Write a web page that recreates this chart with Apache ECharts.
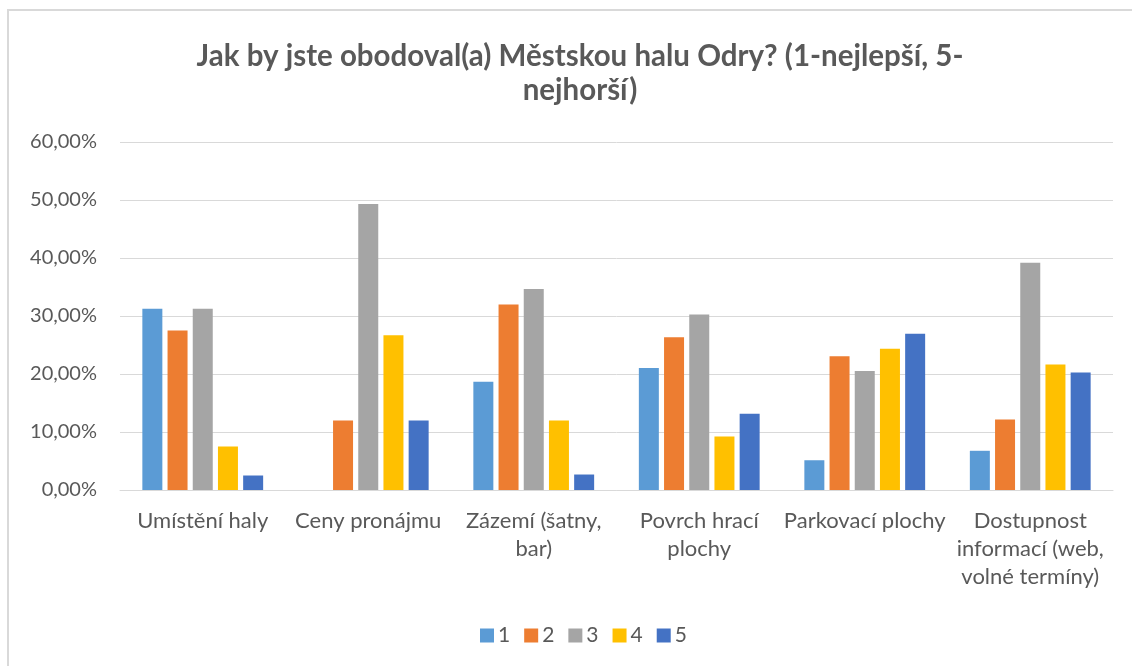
<!doctype html>
<html>
<head>
<meta charset="utf-8">
<title>Městská hala Odry</title>
<style type="text/css">
html, body {
  margin: 0;
  padding: 0;
  background: #fff;
  overflow: hidden;
}
#frame {
  position: absolute;
  left: 7px;
  top: 9px;
  width: 1160px;
  height: 700px;
  border-left: 2px solid #d9d9d9;
  border-top: 2px solid #d9d9d9;
}
#chart {
  position: absolute;
  left: 0;
  top: 0;
  width: 1132px;
  height: 666px;
}
</style>
<script type="text/javascript" src="https://cdn.jsdelivr.net/npm/echarts@6/dist/echarts.min.js"></script>
</head>
<body>
<div id="frame"></div>
<div id="chart"></div>
<script type="text/javascript">
// kategorie (osa x)
var categories = [
  'Umístění haly',
  'Ceny pronájmu',
  'Zázemí (šatny,\nbar)',
  'Povrch hrací\nplochy',
  'Parkovací plochy',
  'Dostupnost\ninformací (web,\nvolné termíny)'
];
// hodnocení 1-5, podíl odpovědí v %
var seriesNames = ['1', '2', '3', '4', '5'];
var rating1 = [31.25, 0, 18.67, 21.05, 5.13, 6.76];
var rating2 = [27.5, 12.0, 32.0, 26.32, 23.08, 12.16];
var rating3 = [31.25, 49.33, 34.67, 30.26, 20.51, 39.19];
var rating4 = [7.5, 26.67, 12.0, 9.21, 24.36, 21.62];
var rating5 = [2.5, 12.0, 2.67, 13.16, 26.92, 20.27];
var yTicks = [0, 10, 20, 30, 40, 50, 60];

var colors = ['#5b9bd5', '#ed7d31', '#a5a5a5', '#ffc000', '#4472c4'];
var values = [rating1, rating2, rating3, rating4, rating5];

var myChart = echarts.init(document.getElementById('chart'), null, { renderer: 'canvas' });

var series = [];
for (var i = 0; i < seriesNames.length; i++) {
  series.push({
    name: seriesNames[i],
    type: 'bar',
    barWidth: 20,
    barGap: '26%',
    itemStyle: { color: colors[i] },
    data: values[i]
  });
}

var option = {
  backgroundColor: 'transparent',
  animation: false,
  color: colors,
  title: {
    text: 'Jak by jste obodoval(a) Městskou halu Odry? (1-nejlepší, 5-\nnejhorší)',
    left: 575,
    top: 34,
    textAlign: 'center',
    textStyle: {
      fontFamily: 'Lato',
      fontWeight: 'bold',
      fontSize: 29.5,
      lineHeight: 34,
      color: '#595959'
    }
  },
  legend: {
    data: seriesNames,
    left: 475,
    top: 620,
    itemWidth: 14,
    itemHeight: 14,
    itemGap: 14,
    icon: 'rect',
    textStyle: { fontFamily: 'Lato', fontSize: 21, color: '#595959', padding: [0, 0, 0, -1] }
  },
  grid: {
    left: 120,
    right: 19,
    top: 142,
    bottom: 176,
    containLabel: false
  },
  xAxis: {
    type: 'category',
    data: categories,
    axisLine: { show: true, lineStyle: { color: '#d9d9d9', width: 1 } },
    axisTick: { show: false },
    axisLabel: {
      interval: 0,
      margin: 17,
      fontFamily: 'Lato',
      fontSize: 22,
      lineHeight: 28,
      color: '#595959'
    }
  },
  yAxis: {
    type: 'value',
    min: yTicks[0],
    max: yTicks[yTicks.length - 1],
    interval: 10,
    axisLine: { show: false },
    axisTick: { show: false },
    splitLine: { lineStyle: { color: '#d9d9d9', width: 1 } },
    axisLabel: {
      margin: 23,
      fontFamily: 'Lato',
      fontSize: 20,
      color: '#595959',
      formatter: function (v) {
        return v.toFixed(2).replace('.', ',') + '%';
      }
    }
  },
  series: series
};
myChart.setOption(option);
</script>
</body>
</html>
